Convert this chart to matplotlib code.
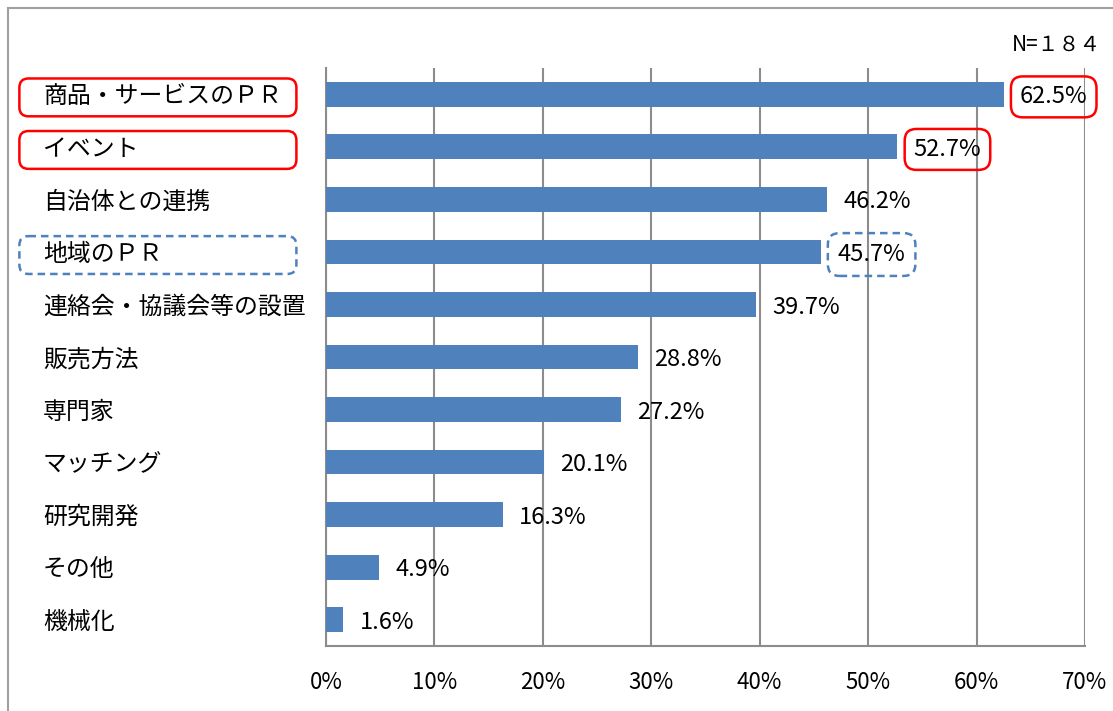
import matplotlib
matplotlib.use("Agg")
import matplotlib.pyplot as plt
from matplotlib.patches import FancyBboxPatch, Rectangle

plt.rcParams['font.family'] = ['Noto Sans CJK JP', 'DejaVu Sans']

categories = ["商品・サービスのＰＲ", "イベント", "自治体との連携", "地域のＰＲ",
              "連絡会・協議会等の設置", "販売方法", "専門家", "マッチング",
              "研究開発", "その他", "機械化"]
values = [62.5, 52.7, 46.2, 45.7, 39.7, 28.8, 27.2, 20.1, 16.3, 4.9, 1.6]
red_boxed = [0, 1]
blue_boxed = [3]
xticks = [0, 10, 20, 30, 40, 50, 60, 70]
n_label = "N=１８４"

bar_color = "#4F81BD"
grid_color = "#8C8C8C"

fig = plt.figure(figsize=(11.13, 7.11), dpi=100)
ax = fig.add_axes([0.2929, 0.0914, 0.6819, 0.8130])

ypos = list(range(len(categories)))
ax.barh(ypos, values, height=0.47, color=bar_color, zorder=3)
ax.set_xlim(0, 70)
ax.set_ylim(len(categories) - 0.5, -0.5)

ax.set_xticks(xticks)
ax.set_xticklabels([f"{t}%" for t in xticks], fontsize=16)
ax.tick_params(axis='x', length=0, pad=18)
ax.set_yticks([])
ax.xaxis.grid(True, color=grid_color, lw=1.5, zorder=0)
for s in ["top", "right"]:
    ax.spines[s].set_visible(False)
for s in ["left", "bottom"]:
    ax.spines[s].set_color(grid_color)
    ax.spines[s].set_linewidth(1.5)

ytr = ax.get_yaxis_transform()
# aspect between y data units and x axes units (per pixel)
aspect = (1 / 52.5) / (1 / 759)

for i, (cat, v) in enumerate(zip(categories, values)):
    ax.text(-0.373, i + 0.05, cat, transform=ytr, ha='left', va='center',
            fontsize=17.2, clip_on=False)
    box = None
    if i in red_boxed:
        box = dict(boxstyle='round,pad=0.38,rounding_size=0.5', ec='red', fc='none', lw=1.8)
    elif i in blue_boxed:
        box = dict(boxstyle='round,pad=0.42,rounding_size=0.5', ec=bar_color, fc='none',
                   lw=1.8, ls=(0, (3, 2)))
    ax.text(v + 1.5, i + 0.05, f"{v:.1f}%", ha='left', va='center', fontsize=17,
            bbox=box, zorder=4, clip_on=False)

    if i in red_boxed or i in blue_boxed:
        ec = 'red' if i in red_boxed else bar_color
        ls = '-' if i in red_boxed else (0, (3, 2))
        p = FancyBboxPatch((-0.404, i + 0.06 - 0.36), 0.365, 0.72,
                           boxstyle='round,pad=0,rounding_size=0.012',
                           mutation_aspect=aspect, transform=ytr,
                           ec=ec, fc='none', lw=1.8, ls=ls, clip_on=False)
        ax.add_patch(p)

fig.text(1101 / 1113, 1 - 45 / 711, n_label, ha='right', va='center', fontsize=15)

fig.add_artist(Rectangle((8 / 1113, -0.5), 2, 0.5 + 1 - 8 / 711,
                         transform=fig.transFigure, fill=False,
                         ec="#A0A0A0", lw=1.5))

fig.savefig("out.png", dpi=100)
